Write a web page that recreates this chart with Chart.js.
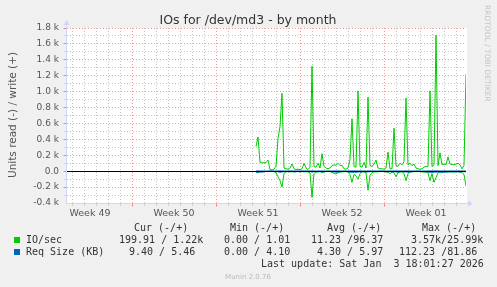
<!DOCTYPE html>
<html lang="en">
<head>
  <meta charset="UTF-8" />
  <title>IOs for /dev/md3 - by month</title>
  <script src="https://cdn.jsdelivr.net/npm/chart.js"></script>
  <style>
    html, body { margin: 0; padding: 0; background: #f0f0f0; }
    .chart-box { width: 497px; height: 287px; position: relative; }
  </style>
</head>
<body>
  <div class="chart-box"><canvas id="ioChart"></canvas></div>

  <script>
    // timebase: hours since Mon 1 Dec 2025 00:00, one sample every 4 hours
    const startHour = 416;
    const stepHours = 4;

    // IO/sec, write (+)
    const ioWrite = [
      310, 430, 110, 105, 105, 110, 140, 20, 15, 25,
      60, 410, 560, 980, 40, 30, 25, 40, 90, 30,
      20, 25, 20, 30, 100, 40, 20, 50, 1320, 60,
      50, 100, 40, 220, 60, 40, 30, 40, 70, 80,
      75, 100, 70, 75, 30, 25, 40, 150, 660, 60,
      50, 1010, 60, 50, 110, 40, 930, 70, 60, 90,
      140, 40, 30, 30, 25, 40, 240, 30, 30, 540,
      70, 60, 100, 80, 120, 920, 80, 100, 70, 90,
      40, 30, 25, 30, 50, 60, 60, 1010, 60, 80,
      1710, 70, 230, 80, 90, 80, 180, 90, 85, 80,
      90, 100, 80, 30, 70, 1220
    ];
    // IO/sec, read (-)
    const ioRead = [
      5, 15, 5, 3, 3, 3, 5, 3, 3, 5,
      20, 70, 120, 200, 30, 10, 5, 10, 5, 5,
      5, 5, 10, 5, 5, 5, 10, 20, 330, 30,
      10, 10, 5, 15, 10, 5, 5, 5, 10, 30,
      35, 20, 10, 10, 5, 5, 10, 40, 140, 40,
      60, 100, 30, 10, 10, 20, 240, 50, 20, 10,
      10, 5, 5, 5, 5, 10, 10, 30, 10, 20,
      70, 20, 10, 10, 30, 120, 30, 10, 10, 5,
      5, 5, 5, 10, 10, 10, 20, 120, 30, 140,
      80, 20, 10, 10, 10, 5, 10, 10, 5, 10,
      10, 5, 10, 20, 40, 190
    ];
    // Req Size (KB), write (+)
    const reqWrite = [
      3, 2, 2, 2, 2, 2, 2, 3, 2, 2,
      2, 3, 3, 3, 2, 2, 2, 2, 3, 2,
      2, 2, 2, 2, 3, 2, 2, 2, 4, 2,
      2, 3, 2, 3, 2, 2, 2, 2, 2, 3,
      3, 3, 2, 2, 2, 2, 2, 3, 3, 3,
      3, 3, 3, 2, 3, 2, 3, 3, 2, 2,
      3, 2, 2, 2, 2, 2, 3, 2, 2, 3,
      3, 2, 3, 2, 3, 3, 3, 3, 2, 3,
      2, 2, 2, 2, 2, 2, 3, 3, 3, 3,
      4, 3, 3, 3, 3, 3, 3, 3, 3, 3,
      3, 3, 3, 2, 2, 2
    ];
    // Req Size (KB), read (-)
    const reqRead = [
      12, 14, 10, 12, 8, 4, 3, 2, 2, 3,
      4, 8, 12, 10, 6, 3, 3, 2, 4, 10,
      6, 3, 2, 3, 8, 4, 3, 2, 12, 4,
      8, 4, 3, 10, 6, 3, 2, 3, 10, 8,
      12, 10, 6, 4, 3, 2, 8, 12, 14, 12,
      14, 10, 8, 6, 4, 10, 8, 6, 3, 4,
      4, 3, 2, 2, 2, 6, 8, 4, 10, 6,
      8, 12, 6, 4, 10, 8, 12, 8, 6, 4,
      3, 2, 3, 4, 6, 8, 10, 14, 14, 12,
      12, 8, 12, 14, 10, 12, 8, 6, 10, 8,
      6, 8, 10, 4, 6, 7
    ];

    const weekLabels = ['Week 49', 'Week 50', 'Week 51', 'Week 52', 'Week 01'];
    const weekLabelHours = [84, 252, 420, 588, 756];
    const yTickValues = [-400, -200, 0, 200, 400, 600, 800, 1000, 1200, 1400, 1600, 1800];
    const yTickLabels = ['-0.4 k', '-0.2 k', '0.0', '0.2 k', '0.4 k', '0.6 k', '0.8 k', '1.0 k', '1.2 k', '1.4 k', '1.6 k', '1.8 k'];

    const legendHeader = [['Cur (-/+)', 134], ['Min (-/+)', 230], ['Avg (-/+)', 327], ['Max (-/+)', 422]];
    const legendRows = [
      { color: '#00cc00', name: 'IO/sec', cells: [['199.91 / 1.22k', 119], ['0.00 / 1.01', 224], ['11.23 /96.37', 311], ['3.57k/25.99k', 411]] },
      { color: '#0066b3', name: 'Req Size (KB)', cells: [['9.40 / 5.46', 129], ['0.00 / 4.10', 224], ['4.30 / 5.97', 317], ['112.23 /81.86', 399]] }
    ];

    const X_MIN = 36, X_MAX = 836, Y_MIN = -400, Y_MAX = 1800;
    const SANS = '"DejaVu Sans", sans-serif';
    const MONO = '"DejaVu Sans Mono", monospace';
    const AXIS = '#cfd6f8';
    const GRID_MINOR = '#c4c4c4';
    const GRID_MAJOR = '#ec9a9a';

    const times = ioWrite.map((_, i) => startHour + i * stepHours);
    const pts = (vals, sign) => vals.map((v, i) => ({ x: times[i], y: sign * v }));

    function dotted(ctx, x1, y1, x2, y2, color) {
      ctx.strokeStyle = color;
      ctx.beginPath();
      ctx.moveTo(x1, y1);
      ctx.lineTo(x2, y2);
      ctx.stroke();
    }

    const muninPlugin = {
      id: 'munin',
      beforeDraw(chart) {
        const { ctx, chartArea: a, scales: { x, y } } = chart;
        ctx.save();
        ctx.fillStyle = '#f0f0f0';
        ctx.fillRect(0, 0, chart.width, chart.height);
        ctx.fillStyle = '#ffffff';
        ctx.fillRect(a.left + 1, a.top, a.right - a.left, a.bottom - a.top);

        ctx.lineWidth = 1;
        ctx.setLineDash([1, 2]);
        // minor grid first, major (red) on top
        for (let pass = 0; pass < 2; pass++) {
          for (let v = Y_MIN + 100; v <= Y_MAX; v += 100) {
            const major = v % 200 === 0;
            if (major !== (pass === 1)) continue;
            const py = Math.floor(y.getPixelForValue(v)) + 0.5;
            dotted(ctx, a.left + 1, py, a.right, py, major ? GRID_MAJOR : GRID_MINOR);
          }
          for (let h = 48; h < X_MAX; h += 24) {
            const major = h % 168 === 0;
            if (major !== (pass === 1)) continue;
            const px = Math.floor(x.getPixelForValue(h)) + 0.5;
            dotted(ctx, px, a.top, px, a.bottom, major ? GRID_MAJOR : GRID_MINOR);
          }
        }
        ctx.restore();
      },
      afterDatasetsDraw(chart) {
        const { ctx, chartArea: a, scales: { y } } = chart;
        ctx.save();
        const zy = Math.floor(y.getPixelForValue(0)) + 0.5;
        ctx.strokeStyle = '#000000';
        ctx.lineWidth = 1;
        ctx.beginPath();
        ctx.moveTo(a.left, zy);
        ctx.lineTo(a.right, zy);
        ctx.stroke();
        ctx.restore();
      },
      afterDraw(chart) {
        const { ctx, chartArea: a, scales: { x, y } } = chart;
        ctx.save();
        const left = a.left + 0.5;
        const bottom = Math.floor(a.bottom) + 0.5;

        // axis ticks
        ctx.lineWidth = 1;
        for (let h = 48; h < X_MAX; h += 24) {
          const px = Math.floor(x.getPixelForValue(h)) + 0.5;
          const major = h % 168 === 0;
          ctx.strokeStyle = major ? '#f08080' : '#c8c8c8';
          ctx.beginPath();
          ctx.moveTo(px, bottom);
          ctx.lineTo(px, bottom + (major ? 3 : 2));
          ctx.stroke();
        }
        for (let v = Y_MIN + 100; v <= Y_MAX; v += 100) {
          const py = Math.floor(y.getPixelForValue(v)) + 0.5;
          const major = v % 200 === 0;
          ctx.strokeStyle = major ? '#f08080' : '#c8c8c8';
          ctx.beginPath();
          ctx.moveTo(left - (major ? 3 : 2), py);
          ctx.lineTo(left, py);
          ctx.stroke();
        }

        // axes with arrows
        ctx.strokeStyle = AXIS;
        ctx.fillStyle = AXIS;
        ctx.beginPath();
        ctx.moveTo(left, bottom);
        ctx.lineTo(left, a.top - 5);
        ctx.moveTo(left, bottom);
        ctx.lineTo(a.right + 4, bottom);
        ctx.stroke();
        ctx.beginPath();
        ctx.moveTo(left, a.top - 8);
        ctx.lineTo(left - 3, a.top - 3);
        ctx.lineTo(left + 3, a.top - 3);
        ctx.closePath();
        ctx.fill();
        ctx.beginPath();
        ctx.moveTo(a.right + 7, bottom);
        ctx.lineTo(a.right + 2, bottom - 3);
        ctx.lineTo(a.right + 2, bottom + 3);
        ctx.closePath();
        ctx.fill();

        // title
        ctx.fillStyle = '#333333';
        ctx.font = '12.5px ' + SANS;
        ctx.textAlign = 'center';
        ctx.textBaseline = 'alphabetic';
        ctx.fillText('IOs for /dev/md3 - by month', 248, 24);

        // vertical axis title
        ctx.save();
        ctx.fillStyle = '#555555';
        ctx.font = '10.5px ' + SANS;
        ctx.translate(15.5, 115);
        ctx.rotate(-Math.PI / 2);
        ctx.fillText('Units read (-) / write (+)', 0, 0);
        ctx.restore();

        // rrdtool watermark
        ctx.save();
        ctx.fillStyle = '#c4c4c4';
        ctx.font = '7.5px ' + SANS;
        ctx.textAlign = 'left';
        ctx.translate(485, 5);
        ctx.rotate(Math.PI / 2);
        ctx.fillText('RRDTOOL / TOBI OETIKER', 0, 0);
        ctx.restore();

        // legend table
        ctx.textAlign = 'left';
        ctx.font = '10px ' + MONO;
        ctx.fillStyle = '#333333';
        legendHeader.forEach(([t, lx]) => ctx.fillText(t, lx, 231));
        legendRows.forEach((row, r) => {
          const by = 243 + r * 12;
          ctx.fillStyle = row.color;
          ctx.fillRect(14, by - 6, 6, 6);
          ctx.fillStyle = '#333333';
          ctx.fillText(row.name, 26, by);
          row.cells.forEach(([t, lx]) => ctx.fillText(t, lx, by));
        });
        ctx.fillText('Last update: Sat Jan  3 18:01:27 2026', 261, 267);

        ctx.fillStyle = '#bbbbbb';
        ctx.font = '7px ' + SANS;
        ctx.textAlign = 'center';
        ctx.fillText('Munin 2.0.76', 248, 279);
        ctx.restore();
      }
    };

    const ctx = document.getElementById('ioChart').getContext('2d');
    const ioChart = new Chart(ctx, {
      type: 'line',
      data: {
        datasets: [
          { label: 'Req Size (KB) write', data: pts(reqWrite, 1), borderColor: '#0066b3' },
          { label: 'Req Size (KB) read', data: pts(reqRead, -1), borderColor: '#0066b3' },
          { label: 'IO/sec write', data: pts(ioWrite, 1), borderColor: '#00cc00' },
          { label: 'IO/sec read', data: pts(ioRead, -1), borderColor: '#00cc00' }
        ]
      },
      options: {
        responsive: true,
        maintainAspectRatio: false,
        animation: false,
        events: [],
        layout: { padding: { left: 0, right: 31, top: 28, bottom: 64 } },
        elements: {
          line: { borderWidth: 1, tension: 0, fill: false },
          point: { radius: 0 }
        },
        plugins: {
          legend: { display: false },
          title: { display: false },
          tooltip: { enabled: false }
        },
        scales: {
          x: {
            type: 'linear',
            min: X_MIN,
            max: X_MAX,
            grid: { display: false, drawTicks: false },
            border: { display: false },
            afterBuildTicks: s => { s.ticks = weekLabelHours.map(v => ({ value: v })); },
            afterFit: s => { s.height = 20; },
            ticks: {
              autoSkip: false,
              maxRotation: 0,
              padding: 5,
              color: '#555555',
              font: { family: SANS, size: 9.5 },
              callback: (v, i) => weekLabels[i]
            }
          },
          y: {
            min: Y_MIN,
            max: Y_MAX,
            grid: { display: false, drawTicks: false },
            border: { display: false },
            afterBuildTicks: s => { s.ticks = yTickValues.map(v => ({ value: v })); },
            afterFit: s => { s.width = 66; },
            ticks: {
              padding: 7,
              color: '#555555',
              font: { family: SANS, size: 9 },
              callback: (v, i) => yTickLabels[i]
            }
          }
        }
      },
      plugins: [muninPlugin]
    });
  </script>
</body>
</html>
